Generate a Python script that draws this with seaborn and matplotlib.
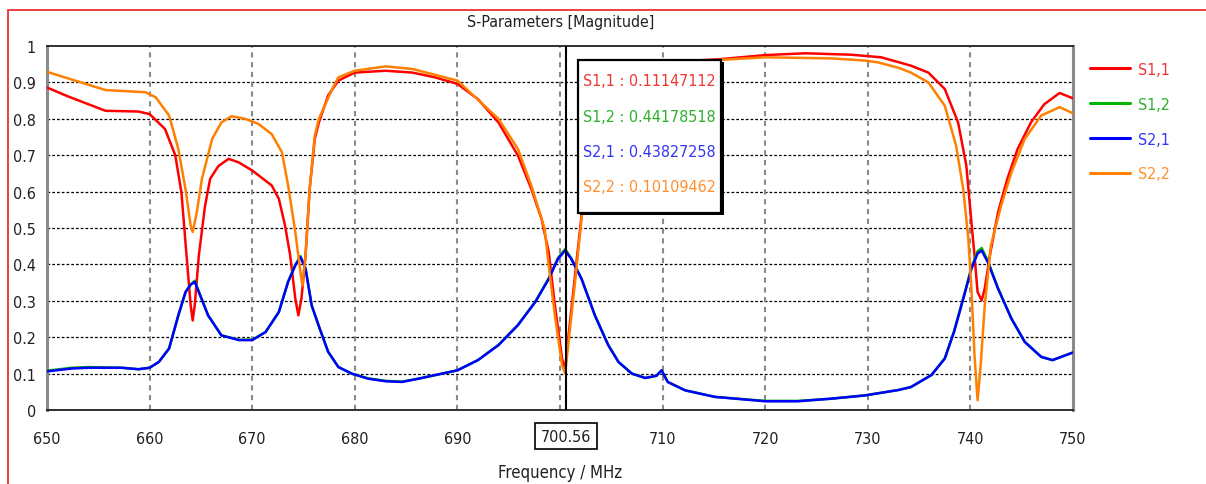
import matplotlib
matplotlib.use("Agg")
import matplotlib.pyplot as plt
import matplotlib.patches as mpatches
from matplotlib import font_manager
from matplotlib.font_manager import FontProperties
import seaborn as sns
import pandas as pd

# ---------------- data ----------------
freq_s11 = [650, 652, 655.7, 658.9, 660, 661.5, 662.5, 663.1, 663.6, 664.0, 664.2, 664.4, 664.8, 665.4,
            665.9, 666.7, 667.7, 668.7, 670.0, 671.9, 672.6, 673.2, 673.7, 674.2, 674.5, 674.8, 675.2,
            675.6, 676.1, 676.5, 677.4, 678.4, 680, 683, 685.6, 687.8, 690, 692, 694, 695.9, 697.2,
            698.2, 698.9, 699.5, 700.2, 700.5, 700.8, 701.5, 702.1, 702.8, 704, 706, 710, 715.7, 720,
            723.9, 728.4, 731.3, 734.2, 735.9, 737.5, 738.8, 739.6, 740.1, 740.4, 740.7, 741.1, 741.4,
            741.9, 742.7, 743.6, 744.6, 745.9, 747.2, 748.7, 750]
s11 = [0.886, 0.862, 0.822, 0.82, 0.813, 0.772, 0.70, 0.598, 0.425, 0.288, 0.246, 0.288, 0.425, 0.56,
       0.635, 0.67, 0.69, 0.68, 0.658, 0.617, 0.58, 0.507, 0.425, 0.306, 0.26, 0.306, 0.425,
       0.607, 0.745, 0.79, 0.864, 0.905, 0.927, 0.932, 0.927, 0.914, 0.896, 0.854, 0.79, 0.699, 0.608,
       0.525, 0.434, 0.288, 0.141, 0.111, 0.196, 0.379, 0.534, 0.70, 0.86, 0.93, 0.955, 0.964, 0.975,
       0.98, 0.976, 0.969, 0.946, 0.927, 0.882, 0.79, 0.672, 0.516, 0.425, 0.324, 0.301, 0.334,
       0.425, 0.544, 0.635, 0.717, 0.79, 0.84, 0.871, 0.856]

freq_s22 = [650, 655.7, 659.6, 660.6, 661.9, 662.8, 663.5, 664.0, 664.2, 664.6, 665.1, 666.1, 667.0,
            668.0, 669.3, 670.6, 671.9, 672.9, 673.5, 674.2, 674.7, 674.9, 675.2, 675.6, 676.1, 676.5,
            677.8, 678.4, 680, 683, 685.6, 690, 694, 695.9, 697.2, 698.5, 698.9, 699.5, 700.2, 700.5,
            700.8, 701.5, 702.1, 702.8, 704, 706, 710, 715.7, 720, 726.4, 729.7, 731, 733, 734.2, 735.9,
            737.5, 738.6, 739.3, 739.8, 740.1, 740.4, 740.7, 741.0, 741.4, 742.0, 743.0, 744.0, 745.3,
            746.9, 748.7, 750]
s22 = [0.929, 0.879, 0.873, 0.859, 0.809, 0.717, 0.607, 0.507, 0.489, 0.543, 0.635, 0.745, 0.79,
       0.807, 0.80, 0.786, 0.758, 0.708, 0.617, 0.489, 0.379, 0.342, 0.425, 0.607, 0.754, 0.80,
       0.882, 0.914, 0.932, 0.944, 0.937, 0.905, 0.80, 0.717, 0.617, 0.498, 0.397, 0.26, 0.123, 0.101,
       0.178, 0.36, 0.525, 0.69, 0.85, 0.925, 0.952, 0.962, 0.969, 0.966, 0.96, 0.955, 0.94, 0.927, 0.90,
       0.836, 0.727, 0.607, 0.47, 0.334, 0.15, 0.027, 0.123, 0.288, 0.452, 0.562, 0.653, 0.745,
       0.809, 0.832, 0.815]

freq_s21 = [650, 652.4, 654.1, 657.3, 658.9, 660, 660.9, 661.9, 662.8, 663.5, 664.0, 664.4, 664.8,
            665.7, 667.0, 668.7, 670, 671.3, 672.6, 673.5, 674.2, 674.7, 675.2, 675.8, 676.5, 677.4,
            678.4, 679.7, 681.3, 683, 684.6, 686.2, 690, 692, 694, 695.9, 697.6, 698.9, 699.8, 700.5,
            701.1, 702.1, 703.4, 704.7, 705.7, 707.0, 708.3, 709.4, 709.9, 710.5, 712.2, 715.1, 720,
            723.2, 726.4, 729.7, 733, 734.2, 736.2, 737.5, 738.4, 739.4, 740.1, 740.7, 741.1, 741.7,
            742.7, 744.0, 745.3, 746.9, 748.0, 750]
s21 = [0.106, 0.114, 0.116, 0.116, 0.112, 0.116, 0.132, 0.169, 0.26, 0.324, 0.344, 0.352, 0.324,
       0.26, 0.205, 0.192, 0.192, 0.214, 0.269, 0.352, 0.397, 0.42, 0.388, 0.287, 0.23, 0.16,
       0.118, 0.10, 0.086, 0.079, 0.077, 0.086, 0.109, 0.137, 0.178, 0.233, 0.297, 0.36, 0.415, 0.438,
       0.415, 0.36, 0.26, 0.178, 0.132, 0.10, 0.088, 0.094, 0.109, 0.077, 0.054, 0.036, 0.024,
       0.024, 0.031, 0.04, 0.055, 0.063, 0.096, 0.141, 0.214, 0.315, 0.388, 0.43, 0.438, 0.406,
       0.333, 0.251, 0.187, 0.146, 0.137, 0.158]
s12 = [0.108, 0.116, 0.118, 0.116, 0.112, 0.116, 0.132, 0.169, 0.26, 0.324, 0.345, 0.355, 0.325,
       0.26, 0.205, 0.193, 0.193, 0.214, 0.27, 0.353, 0.399, 0.423, 0.389, 0.287, 0.23, 0.16,
       0.118, 0.10, 0.087, 0.080, 0.078, 0.086, 0.109, 0.137, 0.179, 0.234, 0.298, 0.362, 0.418, 0.442,
       0.417, 0.361, 0.26, 0.179, 0.132, 0.10, 0.088, 0.094, 0.109, 0.077, 0.054, 0.036, 0.025,
       0.025, 0.031, 0.04, 0.055, 0.063, 0.096, 0.142, 0.216, 0.318, 0.392, 0.436, 0.445, 0.41,
       0.334, 0.251, 0.187, 0.146, 0.137, 0.158]

series_names = ["S1,1", "S1,2", "S2,1", "S2,2"]
series_colors = ["#ff0000", "#00b400", "#0000ff", "#ff8000"]
text_colors = ["#f03535", "#2cb02c", "#3535f5", "#ff9030"]
marker_freq = 700.56
marker_values = ["0.11147112", "0.44178518", "0.43827258", "0.10109462"]
x_ticks = [650, 660, 670, 680, 690, 700, 710, 720, 730, 740, 750]
y_ticks = [0, 0.1, 0.2, 0.3, 0.4, 0.5, 0.6, 0.7, 0.8, 0.9, 1]
y_labels = ["0", "0.1", "0.2", "0.3", "0.4", "0.5", "0.6", "0.7", "0.8", "0.9", "1"]
title = "S-Parameters [Magnitude]"
x_label = "Frequency / MHz"

# ---------------- style ----------------
sns.set_style("white")
plt.rcParams["font.family"] = ["Liberation Sans", "DejaVu Sans"]

# look for a condensed / narrow face (closer to the Tahoma-like UI font)
font_path = None
prefs = ["LiberationSansNarrow-Regular", "DejaVuSansCondensed.ttf", "Roboto_Condensed-Regular",
         "RobotoCondensed-Regular", "OpenSans_Condensed-Regular", "OpenSans-CondensedRegular",
         "NotoSans-Condensed.ttf", "NotoSans_Condensed-Regular", "NotoSansDisplay-Condensed"]
all_files = [f.fname for f in font_manager.fontManager.ttflist]
for p in prefs:
    hits = [fn for fn in all_files if p in fn]
    if hits:
        font_path = hits[0]
        break
if font_path is None:
    for fn in all_files:
        base = fn.split("/")[-1]
        if ("Condensed" in base or "Narrow" in base) and not any(
                k in base for k in ["Bold", "Italic", "Light", "Thin", "Medium", "Black", "Semi", "Extra", "Oblique"]):
            font_path = fn
            break


def fp(size):
    if font_path:
        return FontProperties(fname=font_path, size=size)
    return FontProperties(family=["Liberation Sans", "DejaVu Sans"], size=size)


W, H = 1206, 485
fig = plt.figure(figsize=(W / 100, H / 100), dpi=100)
fig.patch.set_facecolor("white")
renderer = fig.canvas.get_renderer()


def fx(px):
    return px / W


def fy(py):
    return 1 - py / H


def fit_size(s, target_px, base=14.0):
    t = fig.text(0, 0, s, fontproperties=fp(base))
    w = t.get_window_extent(renderer).width
    t.remove()
    return base * target_px / w


fs_main = fit_size("S1,1 : 0.11147112", 133)
fs_title = fit_size(title, 189)
fs_xlabel = fit_size(x_label, 125)

ax = fig.add_axes([fx(47), fy(411), fx(1073) - fx(47), fy(47) - fy(411)])

# figure red border
fig.add_artist(mpatches.Rectangle((fx(8), fy(H + 10)), fx(W + 20) - fx(8), fy(11) - fy(H + 10),
                                  transform=fig.transFigure, fill=False, edgecolor="#e83030",
                                  linewidth=1.3))

# grid lines
for yt in y_ticks[1:-1]:
    ax.axhline(yt, color="black", linewidth=0.9, linestyle=(0, (2.2, 1.6)), zorder=1)
for xt in x_ticks[1:-1]:
    ax.axvline(xt, color="#8a8a8a", linewidth=1.5, linestyle=(0, (2.5, 2.2)), zorder=1)

frames = [
    pd.DataFrame({"freq": freq_s11, "mag": s11, "param": series_names[0]}),
    pd.DataFrame({"freq": freq_s21, "mag": s12, "param": series_names[1]}),
    pd.DataFrame({"freq": freq_s21, "mag": s21, "param": series_names[2]}),
    pd.DataFrame({"freq": freq_s22, "mag": s22, "param": series_names[3]}),
]
df = pd.concat(frames, ignore_index=True)

sns.lineplot(data=df, x="freq", y="mag", hue="param", hue_order=series_names,
             palette=dict(zip(series_names, series_colors)), estimator=None, sort=False,
             linewidth=1.8, ax=ax, zorder=3)
for ln in ax.get_lines():
    ln.set_solid_joinstyle("round")

# cursor line
ax.axvline(marker_freq, color="black", linewidth=1.5, zorder=4)

ax.set_xlim(650, 750)
ax.set_ylim(0, 1)
ax.set_xticks(x_ticks)
ax.set_xticklabels([str(t) if t != 700 else "" for t in x_ticks])
ax.set_yticks(y_ticks)
ax.set_yticklabels(y_labels)
ax.tick_params(axis="x", direction="out", length=6, width=1.2, color="#707070", pad=9,
               labelcolor="#202020")
ax.tick_params(axis="y", direction="out", length=6, width=1.2, color="black", pad=2,
               labelcolor="#202020")
for lab in ax.get_xticklabels() + ax.get_yticklabels():
    lab.set_fontproperties(fp(fs_main))
ax.set_xlabel("")
ax.set_ylabel("")

for side in ["left", "right"]:
    ax.spines[side].set_color("#8a8a8a")
    ax.spines[side].set_linewidth(2.2)
for side in ["top", "bottom"]:
    ax.spines[side].set_color("#202020")
    ax.spines[side].set_linewidth(1.3)

# marker frequency label box on x axis
ax.text(marker_freq, -0.072, f"{marker_freq:.2f}", transform=ax.get_xaxis_transform(),
        ha="center", va="center", fontproperties=fp(fs_main), color="#202020",
        bbox=dict(boxstyle="square,pad=0.35", facecolor="white", edgecolor="black", linewidth=1.2),
        clip_on=False)

# title and x label
fig.text(fx(561), fy(22), title, ha="center", va="center", fontproperties=fp(fs_title), color="#202020")
fig.text(fx(560), fy(473), x_label, ha="center", va="center", fontproperties=fp(fs_xlabel), color="#202020")

# tooltip box
shadow = mpatches.Rectangle((fx(580), fy(216)), fx(724) - fx(580), fy(63) - fy(216),
                            transform=fig.transFigure, facecolor="black", edgecolor="none", zorder=5)
box = mpatches.Rectangle((fx(578), fy(214)), fx(721) - fx(578), fy(61) - fy(214),
                         transform=fig.transFigure, facecolor="white", edgecolor="black",
                         linewidth=1.6, zorder=6)
fig.add_artist(shadow)
fig.add_artist(box)
for i, (nm, val, c) in enumerate(zip(series_names, marker_values, text_colors)):
    fig.text(fx(583), fy(82 + i * 35.3), f"{nm} : {val}", ha="left", va="center",
             fontproperties=fp(fs_main), color=c, zorder=7)

# legend
fs_px = fs_main * 100 / 72
leg = ax.legend(loc="upper left", bbox_to_anchor=(fx(1090), fy(63)), bbox_transform=fig.transFigure,
                frameon=False, prop=fp(fs_main), handlelength=40 / fs_px, handletextpad=8 / fs_px,
                labelspacing=(35 - 0.95 * fs_px) / fs_px, borderaxespad=0, borderpad=0)
for txt, c in zip(leg.get_texts(), text_colors):
    txt.set_color(c)
for ln in leg.get_lines():
    ln.set_linewidth(2.2)

fig.savefig("out.png", dpi=100, facecolor="white")
